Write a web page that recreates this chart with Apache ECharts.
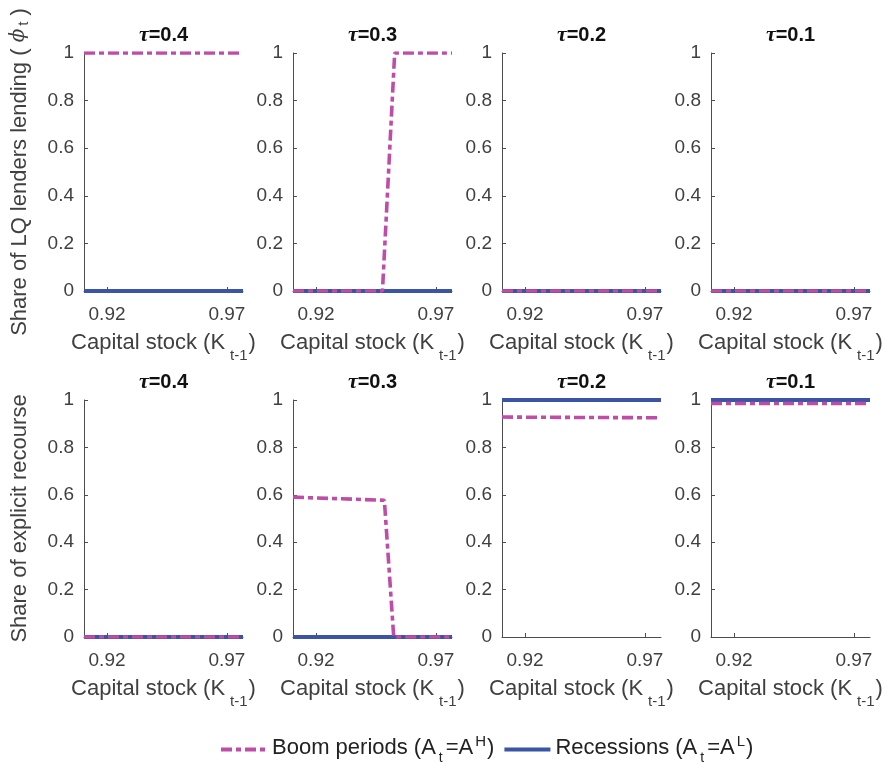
<!DOCTYPE html>
<html>
<head>
<meta charset="utf-8">
<script src="https://cdn.jsdelivr.net/npm/echarts@6/dist/echarts.min.js"></script>
<style>html,body{margin:0;padding:0;background:#fff}#c{width:886px;height:763px}</style>
</head>
<body>
<div id="c"></div>
<script>
// ---- data ----
const tauLabels = ['0.4', '0.3', '0.2', '0.1'];
const xTicks = [0.92, 0.97];
const kTop = [0.9104, 0.9477, 0.9528, 0.9767];
const kBottom = [0.9104, 0.9485, 0.9524, 0.9767];
// Top row: share of LQ lenders lending
const phiBoom04 = [1, 1, 1, 1];
const phiBoom03 = [0, 0, 1, 1];
const phiBoom02 = [0, 0, 0, 0];
const phiBoom01 = [0, 0, 0, 0];
const phiRec04 = [0, 0, 0, 0];
const phiRec03 = [0, 0, 0, 0];
const phiRec02 = [0, 0, 0, 0];
const phiRec01 = [0, 0, 0, 0];
// Bottom row: share of explicit recourse
const recBoom04 = [0, 0, 0, 0];
const recBoom03 = [0.59, 0.577, 0, 0];
const recBoom02 = [0.928, 0.926, 0.926, 0.925];
const recBoom01 = [0.985, 0.985, 0.985, 0.985];
const recRec04 = [0, 0, 0, 0];
const recRec03 = [0, 0, 0, 0];
const recRec02 = [1, 1, 1, 1];
const recRec01 = [1, 1, 1, 1];

const boomRows = [[phiBoom04, phiBoom03, phiBoom02, phiBoom01], [recBoom04, recBoom03, recBoom02, recBoom01]];
const recRows = [[phiRec04, phiRec03, phiRec02, phiRec01], [recRec04, recRec03, recRec02, recRec01]];
const kRows = [kTop, kBottom];

// ---- layout / style ----
const FONT = 'Liberation Sans';
const BOOM = '#BF4DA7';
const REC = '#3A55A6';
const lefts = [84, 293, 502, 711];
const W = 159;
const tops = [53, 400];
const Hs = [238, 237];

const grids = [], xAxes = [], yAxes = [], series = [], titles = [];
const yRich = {
  n: {fontFamily: FONT, fontSize: 22, color: '#404040', lineHeight: 24, verticalAlign: 'top'},
  s: {fontFamily: FONT, fontSize: 15, color: '#404040', verticalAlign: 'top', padding: [7, 0, 0, 3]},
  g: {fontFamily: 'DejaVu Serif', fontStyle: 'italic', fontSize: 20, color: '#404040', lineHeight: 24, verticalAlign: 'top'}
};
const xRich = {
  n: {fontFamily: FONT, fontSize: 22, color: '#404040', lineHeight: 24, verticalAlign: 'top'},
  s: {fontFamily: FONT, fontSize: 15, color: '#404040', verticalAlign: 'top', padding: [16, 1, 0, 5]}
};
const yNames = ['{n|Share of LQ lenders lending ( }{g|ϕ}{s|t}{n| )}', '{n|Share of explicit recourse}'];

let gi = 0;
for (let r = 0; r < 2; r++) {
  for (let c = 0; c < 4; c++) {
    grids.push({left: lefts[c], top: tops[r], width: W, height: Hs[r], containLabel: false});
    xAxes.push({
      type: 'value', gridIndex: gi, min: 0.9104, max: 0.9767,
      axisLine: {show: true, onZero: false, lineStyle: {color: '#4d4d4d', width: 1}},
      axisTick: {show: true, inside: true, length: 4, customValues: xTicks, lineStyle: {color: '#4d4d4d'}},
      axisLabel: {show: true, customValues: xTicks, formatter: v => v.toFixed(2), fontFamily: FONT, fontSize: 19, color: '#404040', margin: 14},
      splitLine: {show: false},
      name: '{n|Capital stock (K}{s|t-1}{n|)}', nameLocation: 'middle', nameGap: 41,
      nameTextStyle: {rich: xRich}
    });
    const ya = {
      type: 'value', gridIndex: gi, min: 0, max: 1, interval: 0.2,
      axisLine: {show: true, lineStyle: {color: '#4d4d4d', width: 1}},
      axisTick: {show: true, inside: true, length: 4, lineStyle: {color: '#4d4d4d'}},
      axisLabel: {fontFamily: FONT, fontSize: 19, color: '#404040', margin: 10},
      splitLine: {show: false}
    };
    if (c === 0) {
      ya.name = yNames[r];
      ya.nameLocation = 'middle';
      ya.nameGap = 51;
      ya.nameTextStyle = {rich: yRich};
    }
    yAxes.push(ya);
    const ks = kRows[r];
    series.push({
      name: 'Recessions', type: 'line', xAxisIndex: gi, yAxisIndex: gi,
      data: ks.map((k, i) => [k, recRows[r][c][i]]),
      symbol: 'none', lineStyle: {color: REC, width: 3.8, type: 'solid'}, itemStyle: {color: REC}, z: 2
    });
    series.push({
      name: 'Boom periods', type: 'line', xAxisIndex: gi, yAxisIndex: gi,
      data: ks.map((k, i) => [k, boomRows[r][c][i]]),
      symbol: 'none', lineStyle: {color: BOOM, width: 3.6, type: [11, 4, 5, 4], cap: 'butt'}, itemStyle: {color: BOOM}, z: 3
    });
    titles.push({
      text: '{i|τ}{b|=' + tauLabels[c] + '}',
      left: lefts[c] + W / 2, top: tops[r] - 28, textAlign: 'center', padding: 0,
      textStyle: {rich: {
        i: {fontFamily: 'Liberation Serif', fontStyle: 'italic', fontSize: 22, color: '#111', lineHeight: 21},
        b: {fontFamily: FONT, fontWeight: 'bold', fontSize: 20, color: '#111', lineHeight: 21}
      }}
    });
    gi++;
  }
}

const legRich = {
  n: {fontFamily: FONT, fontSize: 22, color: '#222', lineHeight: 24, verticalAlign: 'top', padding: [3, 0, 0, 0]},
  s: {fontFamily: FONT, fontSize: 14, color: '#222', verticalAlign: 'top', padding: [17, 3, 0, 3]},
  p: {fontFamily: FONT, fontSize: 15, color: '#222', verticalAlign: 'top', padding: [0, 1, 0, 2]}
};
const chart = echarts.init(document.getElementById('c'), null, {renderer: 'canvas'});
chart.setOption({
  animation: false,
  backgroundColor: '#fff',
  title: titles,
  grid: grids,
  xAxis: xAxes,
  yAxis: yAxes,
  series: series,
  legend: {
    data: ['Boom periods', 'Recessions'],
    top: 729, left: 214, itemWidth: 46, itemHeight: 14, itemGap: 8,
    itemStyle: {opacity: 0},
    lineStyle: {width: 4},
    formatter: name => name === 'Boom periods'
      ? '{n|Boom periods (A}{s|t}{n|=A}{p|H}{n|)}'
      : '{n|Recessions (A}{s|t}{n|=A}{p|L}{n|)}',
    textStyle: {rich: legRich, padding: [0, 0, 0, 0]}
  }
});
</script>
</body>
</html>
